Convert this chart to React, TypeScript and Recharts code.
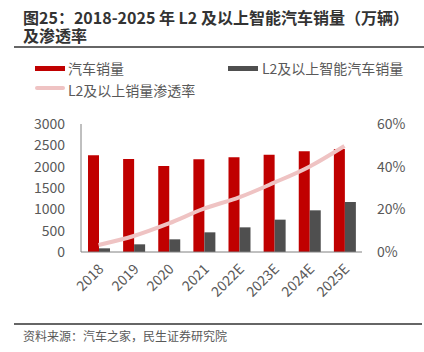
import { ComposedChart, Bar, Line, XAxis, YAxis } from 'recharts'

const years = ['2018', '2019', '2020', '2021', '2022E', '2023E', '2024E', '2025E']
const carSales = [2266, 2180, 2016, 2172, 2219, 2281, 2359, 2414]
const l2Sales = [86, 180, 297, 461, 578, 758, 977, 1172]
const l2Rate = [3.3, 7.5, 13.4, 20.3, 25.6, 32.5, 40.0, 49.7]
const leftTicks = [0, 500, 1000, 1500, 2000, 2500, 3000]
const rightTicks = [0, 20, 40, 60]

const data = years.map((year, i) => ({
    year,
    car: carSales[i],
    l2: l2Sales[i],
    rate: l2Rate[i],
}))

const FONT = '"Noto Sans CJK SC", "Noto Sans", sans-serif'
const TEXT = '#595959'

const XTick = (props: any) => {
    const { x, y, payload } = props
    return (
        <text
            x={x + 6}
            y={y + 10}
            transform={`rotate(-45, ${x + 6}, ${y + 10})`}
            textAnchor="end"
            fill={TEXT}
            fontSize={14}
            fontFamily={FONT}
        >
            {payload.value}
        </text>
    )
}

export default function App() {
    return (
        <div style={{ position: 'absolute', left: 0, top: 0, width: 424, height: 352, background: '#fff', fontFamily: FONT }}>
            <div style={{ position: 'absolute', left: 23, top: 9, fontSize: 16, fontWeight: 700, lineHeight: '17px', color: '#333', whiteSpace: 'nowrap' }}>
                图25：2018-2025 年 L2 及以上智能汽车销量（万辆）
            </div>
            <div style={{ position: 'absolute', left: 23, top: 27, fontSize: 16, fontWeight: 700, lineHeight: '17px', color: '#333' }}>
                及渗透率
            </div>
            <div style={{ position: 'absolute', left: 14, top: 46, width: 410, height: 1.5, background: '#666' }} />

            <div style={{ position: 'absolute', left: 35, top: 66, width: 30, height: 5, background: '#C00000' }} />
            <div style={{ position: 'absolute', left: 68, top: 58, fontSize: 14, lineHeight: '20px', color: TEXT }}>汽车销量</div>
            <div style={{ position: 'absolute', left: 228, top: 66, width: 30, height: 5, background: '#4F4F4F' }} />
            <div style={{ position: 'absolute', left: 262, top: 58, fontSize: 14, lineHeight: '20px', color: TEXT }}>L2及以上智能汽车销量</div>
            <div style={{ position: 'absolute', left: 35, top: 86, width: 30, height: 4, background: '#EFC3C3', borderRadius: 2 }} />
            <div style={{ position: 'absolute', left: 68, top: 80, fontSize: 14, lineHeight: '20px', color: TEXT }}>L2及以上销量渗透率</div>

            <div style={{ position: 'absolute', left: 0, top: 110 }}>
                <ComposedChart width={424} height={200} data={data} margin={{ top: 14, right: 0, bottom: 0, left: 0 }} barGap={0}>
                    <XAxis
                        dataKey="year"
                        height={58}
                        interval={0}
                        tick={<XTick />}
                        tickLine={false}
                        axisLine={{ stroke: '#808080' }}
                    />
                    <YAxis
                        yAxisId="left"
                        width={81}
                        domain={[0, 3000]}
                        ticks={leftTicks}
                        interval={0}
                        tickSize={0}
                        tickMargin={16}
                        tickLine={false}
                        axisLine={{ stroke: '#808080' }}
                        tick={{ fill: TEXT, fontSize: 14, fontFamily: FONT }}
                    />
                    <YAxis
                        yAxisId="right"
                        orientation="right"
                        width={62}
                        domain={[0, 60]}
                        ticks={rightTicks}
                        interval={0}
                        tickSize={0}
                        tickMargin={15}
                        tickLine={false}
                        axisLine={false}
                        tickFormatter={(v) => `${v}%`}
                        tick={{ fill: TEXT, fontSize: 14, fontFamily: FONT, textAnchor: 'start' }}
                    />
                    <Bar yAxisId="left" dataKey="car" fill="#C00000" barSize={11} isAnimationActive={false} />
                    <Bar yAxisId="left" dataKey="l2" fill="#4F4F4F" barSize={11} isAnimationActive={false} />
                    <Line
                        yAxisId="right"
                        type="monotone"
                        dataKey="rate"
                        stroke="#EFC3C3"
                        strokeWidth={4}
                        dot={false}
                        isAnimationActive={false}
                    />
                </ComposedChart>
            </div>

            <div style={{ position: 'absolute', left: 14, top: 323, width: 408, height: 1.5, background: '#666' }} />
            <div style={{ position: 'absolute', left: 23, top: 327, fontSize: 12, lineHeight: '18px', color: TEXT }}>
                资料来源：汽车之家，民生证券研究院
            </div>
        </div>
    )
}
